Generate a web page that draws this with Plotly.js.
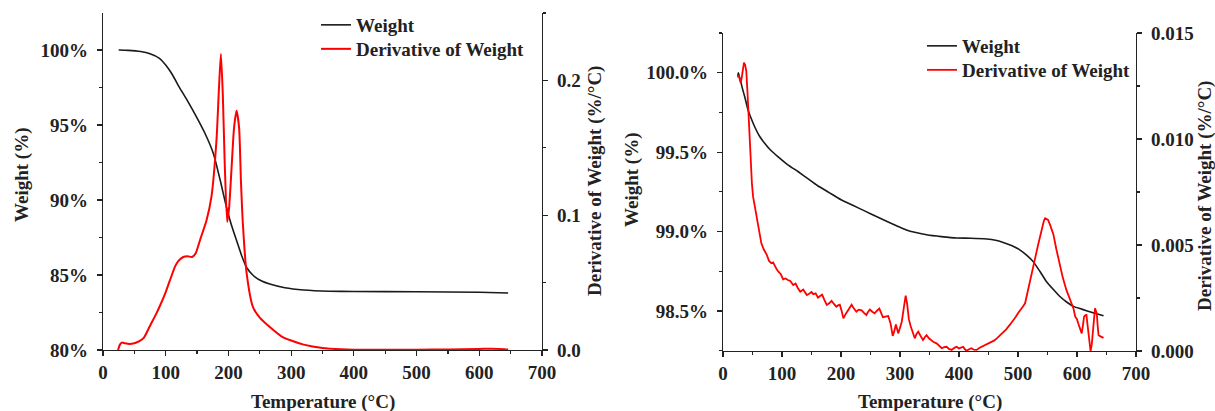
<!DOCTYPE html>
<html>
<head>
<meta charset="utf-8">
<script src="https://cdn.plot.ly/plotly-3.0.1.min.js"></script>
<style>html,body{margin:0;padding:0;background:#fff;}#chart{width:1215px;height:411px;}</style>
</head>
<body>
<div id="chart"></div>
<script>
// ---- Left chart (sample A) ----
const leftWeightT = [25,40,60,75,90,100,110,122,135,149,162,176,187,197,205,213,221,229,240,253,266,290,320,360,400,500,600,646];
const leftWeight  = [100.0,99.98,99.9,99.75,99.45,99.0,98.4,97.5,96.6,95.55,94.5,93.1,91.3,89.5,88.3,87.3,86.3,85.5,84.95,84.6,84.4,84.15,84.0,83.92,83.9,83.88,83.85,83.8];

const leftDerivT = [24,27,30,35,42,50,58,65,75,85,91,100,107,115,120,128,135,142,148,155,165,173,181,185,188,191,194,198,201,205,209,213,217,220,223,229,239,250,266,285,300,320,350,380,400,450,500,550,600,620,640,646];
const leftDeriv  = [0.0,0.004,0.0055,0.005,0.0045,0.005,0.0065,0.009,0.018,0.027,0.033,0.043,0.052,0.062,0.066,0.069,0.0695,0.069,0.072,0.082,0.096,0.114,0.156,0.195,0.2196,0.19,0.14,0.095,0.105,0.135,0.165,0.1775,0.165,0.125,0.094,0.057,0.032,0.024,0.017,0.01,0.007,0.004,0.0015,0.0005,0.0002,0.0001,0.0002,0.0004,0.0008,0.001,0.0006,0.0003];

// ---- Right chart (sample B) ----
const rightWeightT = [25,26,27,30,33,36.7,42.4,48,53.7,62,70.6,80,93,110,127,145,160,180,200,220,240,260,280,295,311,325,345,370,396,420,447,462,475,490,503,515,526,537,548,560,571,583,594,605,616,630,645];
const rightWeight  = [99.98,100.0,99.986,99.944,99.9,99.85,99.766,99.71,99.66,99.6,99.556,99.515,99.472,99.42,99.378,99.33,99.29,99.245,99.2,99.165,99.13,99.095,99.06,99.035,99.01,98.995,98.98,98.968,98.959,98.958,98.953,98.945,98.931,98.91,98.885,98.85,98.81,98.75,98.686,98.635,98.591,98.555,98.529,98.515,98.502,98.485,98.47];

const rightDerivT = [25,26.5,28,30,31.5,33.5,35.5,37.5,39.5,41.5,43.5,45.5,47,49,51,54,57,61,65,69,74,78,82,85,88,91,94,98,102,106,110,114,119,123,127,131,136,139,142,146,150,153,157,161,165,168,172,176,180,184,188,192,195,198,201,204,208,212,215,218,222,226,230,235,239,243,246,249,253,257,261,265,268,271,275,280,284,287.6,290,293,295,297,300,303,306,309.6,312,315,318,322,325,328,331,335,339,342,345,349,353,357,362,366,370.7,375,379,383,387.6,392,396,400,404,407,410,413,417,421,425,430,435,440,444,449,455,460,465,470,475,480,486,491,496,500,505,509,512,515,518,522,526,530,534,537,541,544,546,549,551,555,560,565,571,576,582,588,594,597,600,602,605,608,610,612,614,616,618,619.5,621,623,625,627,629,630.5,632,633.5,635,636.5,639,642,645];
const rightDeriv  = [0.0129,0.013,0.01286,0.01265,0.01285,0.01335,0.0136,0.0135,0.0132,0.0122,0.01105,0.0096,0.00869,0.0079,0.00728,0.0068,0.00628,0.00565,0.00508,0.0048,0.00455,0.00425,0.00414,0.00418,0.004,0.00385,0.00374,0.00362,0.00338,0.00342,0.00335,0.0033,0.00311,0.00318,0.00296,0.0028,0.0029,0.00275,0.00264,0.0027,0.00278,0.00268,0.00272,0.00252,0.00262,0.00266,0.0024,0.00217,0.00225,0.00236,0.00222,0.00209,0.00215,0.00218,0.0019,0.00154,0.00175,0.00195,0.0021,0.00218,0.002,0.00185,0.00195,0.00192,0.0018,0.0017,0.00185,0.00195,0.00185,0.00178,0.0019,0.002,0.0018,0.00159,0.00162,0.00165,0.0013,0.00071,0.0009,0.00125,0.00105,0.00083,0.0011,0.00138,0.00195,0.00261,0.00225,0.0015,0.00118,0.0009,0.0006,0.0008,0.00091,0.0007,0.00052,0.00065,0.00075,0.0006,0.0005,0.00042,0.00036,0.00025,0.00013,0.00018,0.0002,0.0001,0.00005,0.00015,0.0002,0.00012,0.00018,0.0002,0.00008,0.00001,0.00008,0.00013,0.00006,0.00005,0.00015,0.00022,0.00028,0.00035,0.00044,0.0005,0.00062,0.00075,0.0009,0.00102,0.00123,0.0014,0.0016,0.00178,0.00195,0.00212,0.00225,0.0026,0.00296,0.00345,0.00398,0.0045,0.005,0.00539,0.00585,0.00615,0.00626,0.00622,0.00618,0.0059,0.0055,0.0048,0.00398,0.00345,0.00288,0.00245,0.00201,0.00162,0.0015,0.00131,0.0011,0.00083,0.0012,0.00162,0.00168,0.0017,0.0012,0.00083,0.0003,0.0,0.0003,0.00083,0.0016,0.00201,0.0019,0.00178,0.0012,0.00075,0.0007,0.00067,0.00062];

const seriesNames = ['Weight', 'Derivative of Weight'];
const axisTitles = {temp: 'Temperature (°C)', weight: 'Weight (%)', deriv: 'Derivative of Weight (%/°C)'};

const FONT = 'Liberation Serif, Times New Roman, serif';
const INK = '#222';
const baseFont = {family: FONT, size: 19, color: INK, weight: 'bold'};

const data = [
  {x: leftWeightT, y: leftWeight, name: seriesNames[0], type: 'scatter', mode: 'lines', xaxis: 'x', yaxis: 'y', line: {color: '#1a1a1a', width: 1.6, shape: 'spline', smoothing: 0.5}, legend: 'legend'},
  {x: leftDerivT, y: leftDeriv, name: seriesNames[1], type: 'scatter', mode: 'lines', xaxis: 'x', yaxis: 'y2', line: {color: '#ff0000', width: 2, shape: 'spline', smoothing: 0.6}, legend: 'legend2'},
  {x: rightWeightT, y: rightWeight, name: seriesNames[0], type: 'scatter', mode: 'lines', xaxis: 'x2', yaxis: 'y3', line: {color: '#1a1a1a', width: 1.6, shape: 'spline', smoothing: 0.4}, legend: 'legend3'},
  {x: rightDerivT, y: rightDeriv, name: seriesNames[1], type: 'scatter', mode: 'lines', xaxis: 'x2', yaxis: 'y4', line: {color: '#ff0000', width: 1.8}, legend: 'legend4'}
];

function axisBase(extra) {
  return Object.assign({
    showline: true, linecolor: INK, linewidth: 1.3, mirror: false,
    ticks: 'outside', ticklen: 5, tickwidth: 1.2, tickcolor: INK,
    showgrid: false, zeroline: false, tickfont: baseFont, ticklabelstandoff: 5,
    fixedrange: true
  }, extra);
}

function legendAt(px, pyTop) {
  return {x: px / 1215, y: 1 - pyTop / 411, xanchor: 'left', yanchor: 'top', bgcolor: 'rgba(0,0,0,0)', font: baseFont, itemwidth: 30};
}

const layout = {
  width: 1215, height: 411,
  margin: {l: 0, r: 0, t: 0, b: 0},
  paper_bgcolor: '#fff', plot_bgcolor: '#fff',
  font: baseFont,
  showlegend: true,
  xaxis: axisBase({domain: [0.08477, 0.44609], range: [0, 700], dtick: 100, anchor: 'y', ticklabelstandoff: 0, minor: {dtick: 50, ticklen: 3, tickcolor: INK, ticks: 'outside'}}),
  yaxis: axisBase({domain: [0.14842, 0.96837], range: [80, 102.47], dtick: 5, ticksuffix: '%', anchor: 'x', minor: {dtick: 2.5, ticklen: 3, tickcolor: INK, ticks: 'outside'}}),
  yaxis2: axisBase({overlaying: 'y', side: 'right', anchor: 'x', range: [0, 0.25], dtick: 0.1, tickformat: '.1f', minor: {dtick: 0.05, ticklen: 3, tickcolor: INK, ticks: 'outside'}}),
  xaxis2: axisBase({domain: [0.59506, 0.93498], range: [0, 700], dtick: 100, anchor: 'y3', ticklabelstandoff: 0, minor: {dtick: 50, ticklen: 3, tickcolor: INK, ticks: 'outside'}}),
  yaxis3: axisBase({domain: [0.14599, 0.91971], range: [98.248, 100.25], dtick: 0.5, tickformat: '.1f', ticksuffix: '%', anchor: 'x2', minor: {dtick: 0.25, ticklen: 3, tickcolor: INK, ticks: 'outside'}}),
  yaxis4: axisBase({overlaying: 'y3', side: 'right', anchor: 'x2', range: [0, 0.015], dtick: 0.005, tickformat: '.3f', minor: {dtick: 0.0025, ticklen: 3, tickcolor: INK, ticks: 'outside'}}),
  legend: legendAt(316, 6),
  legend2: legendAt(316, 30),
  legend3: legendAt(922, 27),
  legend4: legendAt(922, 51),
  annotations: [
    {text: axisTitles.weight, xref: 'paper', yref: 'paper', x: 22/1215, y: 1 - 175/411, textangle: -90, showarrow: false, font: baseFont, xanchor: 'center', yanchor: 'middle'},
    {text: axisTitles.deriv, xref: 'paper', yref: 'paper', x: 595/1215, y: 1 - 181/411, textangle: -90, showarrow: false, font: baseFont, xanchor: 'center', yanchor: 'middle'},
    {text: axisTitles.temp, xref: 'paper', yref: 'paper', x: 323/1215, y: 1 - 402/411, showarrow: false, font: baseFont, xanchor: 'center', yanchor: 'middle'},
    {text: axisTitles.weight, xref: 'paper', yref: 'paper', x: 632/1215, y: 1 - 180/411, textangle: -90, showarrow: false, font: baseFont, xanchor: 'center', yanchor: 'middle'},
    {text: axisTitles.deriv, xref: 'paper', yref: 'paper', x: 1205/1215, y: 1 - 196/411, textangle: -90, showarrow: false, font: baseFont, xanchor: 'center', yanchor: 'middle'},
    {text: axisTitles.temp, xref: 'paper', yref: 'paper', x: 930/1215, y: 1 - 402/411, showarrow: false, font: baseFont, xanchor: 'center', yanchor: 'middle'}
  ]
};

Plotly.newPlot('chart', data, layout, {staticPlot: true, displayModeBar: false});
</script>
</body>
</html>
